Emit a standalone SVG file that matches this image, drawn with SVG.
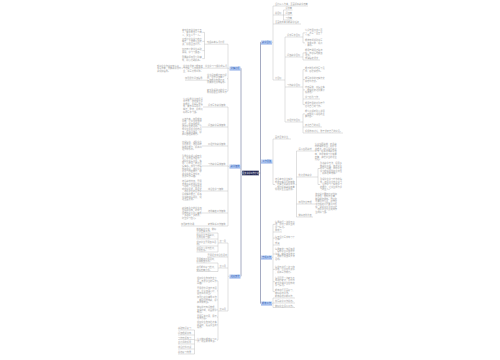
<svg xmlns="http://www.w3.org/2000/svg" width="500" height="360" viewBox="0 0 500 360">
<style>
.t{font-family:"Noto Sans CJK SC","Liberation Sans",sans-serif;font-size:2.2px;fill:#a2a2a2}
.c{fill:none;stroke:#b0b0b0;stroke-width:0.4}
.tr{fill:none;stroke:#9ba1bb;stroke-width:0.9}
.n rect{fill:#bcd2f5}
.n path{stroke:#4a78d8;stroke-width:0.5;fill:none}
.n text{font-family:"Noto Sans CJK SC","Liberation Sans",sans-serif;font-size:2.3px;fill:#2c5bb5;text-anchor:middle}
.m rect{fill:#1e2352;stroke:#ffffff;stroke-width:0.4}
.m text{font-family:"Noto Sans CJK SC","Liberation Sans",sans-serif;font-size:2.05px;fill:#ffffff;text-anchor:middle}
</style>
<rect width="500" height="360" fill="#ffffff"/>
<g id="connectors">
<path class="tr" d="M241,68.3 V276.3 M240.5,68.3 H241 M240.5,166.3 H241 M240.5,276.3 H241 M241,173 H242"/>
<path class="tr" d="M260.5,42.3 V303.3 M259,173 H261 M260.5,42.3 H261 M260.5,161.3 H261 M260.5,257.3 H261 M260.5,303.3 H261"/>
<path class="c" d="M228,44.2 V91.1 M228,68.3 H229.5 M206.5,44.2 H228 M204.5,68.2 H228 M227,78.7 H228 M227,91.1 H228
M204.5,32.4 V58.6 M204.5,44.2 H206.5 M202.3,32.4 H204.5 M202.3,41.4 H204.5 M202.3,50.6 H204.5 M202.3,58.6 H204.5
M203,68.2 H204.5 M181.5,68.2 H183 M185,80.2 H207"/>
<path class="c" d="M228,107 V226 M228,166.3 H229.5 M207.5,107 H228 M207.5,127 H228 M207.5,146 H228 M207.5,166 H228 M207.5,191 H228 M207.5,213 H228 M181,226 H228
M203,107 H207.5 M202,127 H207.5 M202,146 H207.5 M202,166 H207.5 M202,191 H207.5 M202,213 H207.5"/>
<path class="c" d="M228,243 V311 M228,276.3 H229.5 M218,243 H228 M207,257 H228 M218,268 H228 M218,311 H228
M218,233 V252 M196.5,233 H218 M196.5,239 H218 M196.5,246 H218 M196.5,252 H218
M218,263 V271.5 M196.5,263 H218 M196.5,271.5 H218
M218,280.9 V340.1 M216.9,280.9 H218 M216.9,290.9 H218 M216.9,299.9 H218 M216.9,309.9 H218 M216.9,317.1 H218 M216.9,324.9 H218 M216.9,340.1 H218
M194.5,330 V354 M194.5,340.1 H197 M178,330 H194.5 M178,335 H194.5 M178,339.5 H194.5 M178,344 H194.5 M178,349 H194.5 M178,354 H194.5"/>
<path class="c" d="M273,6 V80 M272,42.3 H273 M273,6 H308 M273,15 H283.5 M273,24 H301 M273,80 H285
M283.5,10 V20 M283.5,10 H292.5 M283.5,15 H292.5 M283.5,20 H292.5
M285,37 V122 M285,37 H302 M285,57 H302 M285,87 H302 M285,122 H302
M303,32.9 V42.9 M302,37 H303 M303,32.9 H305 M303,42.9 H305
M303,52.9 V60 M302,57 H303 M303,52.9 H305 M303,60 H320
M303,69.6 V104.6 M302,87 H303 M303,69.6 H305 M303,79.6 H305 M303,89.9 H305 M303,99 H320 M303,104.6 H305
M303,113.9 V133 M302,122 H303 M303,113.9 H305 M303,127 H322 M303,133 H343"/>
<path class="c" d="M273,139 V184.5 M272.5,161.3 H273 M273,139 H291 M273,184.5 H275 M295.5,184.5 H296.5
M296.5,151 V217 M296.5,151 H314.5 M296.5,177 H318 M296.5,204 H315 M296.5,217 H313
M318,168.5 V184.5 M318,168.5 H320 M318,184.5 H320"/>
<path class="c" d="M273,224.4 V291.6 M272,257.3 H273 M273,224.4 H275 M273,232 H282 M273,238.1 H275 M273,245 H280 M273,254 H275 M273,269.4 H275 M273,281.7 H275 M273,291.6 H275
M273,298 V307.5 M272,303.3 H273 M273,298 H295 M273,303 H295 M273,307.5 H295"/>
</g>
<g id="center" class="m"><rect x="242" y="170.5" width="17" height="5"/><text x="250.5" y="173.8">语文教学工作计划</text></g>
<g id="n-l1" class="n"><rect x="229.5" y="66.5" width="11" height="3.6"/><path d="M229.5,70.1 H240.5"/><text x="235" y="69.1">学情分析</text></g>
<g id="n-l2" class="n"><rect x="229.5" y="164.5" width="11" height="3.6"/><path d="M229.5,168.1 H240.5"/><text x="235" y="167.1">教学措施</text></g>
<g id="n-l3" class="n"><rect x="229.5" y="274.5" width="11" height="3.6"/><path d="M229.5,278.1 H240.5"/><text x="235" y="277.1">进度安排</text></g>
<g id="n-r1" class="n"><rect x="261" y="40.5" width="11" height="3.6"/><path d="M261,44.1 H272"/><text x="266.5" y="43.1">教学目标</text></g>
<g id="n-r2" class="n"><rect x="261" y="159.5" width="11.5" height="3.6"/><path d="M261,163.1 H272.5"/><text x="266.75" y="162.1">工作思路</text></g>
<g id="n-r3" class="n"><rect x="261" y="255.5" width="11" height="3.6"/><path d="M261,259.1 H272"/><text x="266.5" y="258.1">常规工作</text></g>
<g id="n-r4" class="n"><rect x="261" y="301.5" width="11" height="3.6"/><path d="M261,305.1 H272"/><text x="266.5" y="304.1">期末工作</text></g>
<g id="l1-items" class="t">
<text x="207" y="43.4">班级基本情况分析</text>
<text><tspan x="182" y="30.5">本班共有学生四十五</tspan><tspan x="182" y="33.1">人，其中男生二十四</tspan><tspan x="182" y="35.7">人，女生二十一人。</tspan></text>
<text><tspan x="182" y="39.5">大部分学生学习态度</tspan><tspan x="182" y="42.1">端正，上课能认真听</tspan><tspan x="182" y="44.7">讲，积极回答问题。</tspan></text>
<text><tspan x="182" y="50">但仍有少数学生基础</tspan><tspan x="182" y="52.6">薄弱，学习习惯差。</tspan></text>
<text><tspan x="182" y="58">需要教师加强个别辅</tspan><tspan x="182" y="60.6">导，耐心帮助提高。</tspan></text>
<text x="205" y="67.4">学生学习习惯养成情况</text>
<text><tspan x="183" y="66.5">学生在课堂上能够遵</tspan><tspan x="183" y="69.1">守纪律，认真完成作</tspan><tspan x="183" y="71.7">业，书写比较工整。</tspan></text>
<text><tspan x="157" y="66.5">部分学生作业不够认真，</tspan><tspan x="157" y="69.1">书写潦草，需要教师及时</tspan><tspan x="157" y="71.7">督促和指导。</tspan></text>
<text><tspan x="207" y="75.5">学生阅读能力有待提</tspan><tspan x="207" y="78.1">高，课外阅读量少，</tspan><tspan x="207" y="80.7">写作能力参差不齐，</tspan><tspan x="207" y="83.3">需要加强训练指导。</tspan></text>
<text x="185" y="79.4">加强课外阅读指导</text>
<text><tspan x="207" y="90.5">家长重视孩子的学习</tspan><tspan x="207" y="93.1">能积极配合学校工作</tspan></text>
</g>
<g id="l2-items" class="t">
<text x="208" y="106.2">识字写字教学措施</text>
<text><tspan x="183" y="99.5">认真指导学生掌握识</tspan><tspan x="183" y="102.1">字方法，培养独立识</tspan><tspan x="183" y="104.7">字能力，重视写字指</tspan><tspan x="183" y="107.3">导，要求书写规范、</tspan><tspan x="183" y="109.9">端正、整洁，养成良</tspan><tspan x="183" y="112.5">好的写字习惯。</tspan></text>
<text x="208" y="126.2">阅读教学具体措施</text>
<text><tspan x="182" y="119.5">以读为本，加强朗读</tspan><tspan x="182" y="122.1">训练，让学生在读中</tspan><tspan x="182" y="124.7">感悟，在读中理解，</tspan><tspan x="182" y="127.3">培养学生的语感。引</tspan><tspan x="182" y="129.9">导学生积极主动地阅</tspan><tspan x="182" y="132.5">读，拓展阅读面，提</tspan><tspan x="182" y="135.1">高阅读理解能力。</tspan></text>
<text x="208" y="145.2">口语交际教学措施</text>
<text><tspan x="182" y="142.5">创设情境，鼓励学生</tspan><tspan x="182" y="145.1">大胆表达，培养倾听</tspan><tspan x="182" y="147.7">和表达能力，提高口</tspan><tspan x="182" y="150.3">语交际水平。</tspan></text>
<text x="208" y="165.2">习作教学具体措施</text>
<text><tspan x="182" y="156.5">引导学生留心观察生</tspan><tspan x="182" y="159.1">活，积累写作素材，</tspan><tspan x="182" y="161.7">鼓励学生写真话、实</tspan><tspan x="182" y="164.3">话、心里话，表达真</tspan><tspan x="182" y="166.9">情实感。加强习作指</tspan><tspan x="182" y="169.5">导和讲评，培养学生</tspan><tspan x="182" y="172.1">修改习作的能力，提</tspan><tspan x="182" y="174.7">高学生的写作水平，</tspan><tspan x="182" y="177.3">激发写作兴趣。</tspan></text>
<text x="208" y="190.2">综合性学习措施</text>
<text><tspan x="182" y="182">结合教材内容，开展</tspan><tspan x="182" y="184.6">丰富多彩的综合性学</tspan><tspan x="182" y="187.2">习活动，让学生在活</tspan><tspan x="182" y="189.8">动中学语文、用语文</tspan><tspan x="182" y="192.4">，培养学生的合作意</tspan><tspan x="182" y="195">识和实践能力，提高</tspan><tspan x="182" y="197.6">学生的综合素养，促</tspan><tspan x="182" y="200.2">进全面发展。</tspan></text>
<text x="208" y="212.2">培优辅差工作措施</text>
<text><tspan x="182" y="208.5">对学有余力的学生加</tspan><tspan x="182" y="211.1">强拓展训练，对学习</tspan><tspan x="182" y="213.7">困难的学生耐心辅导</tspan><tspan x="182" y="216.3">，多鼓励，多表扬，</tspan><tspan x="182" y="218.9">树立学习信心。</tspan></text>
<text x="208" y="225.2">家校联系工作措施</text>
<text x="181" y="225.2">加强家校沟通</text>
</g>
<g id="l3-items" class="t">
<text x="219.5" y="242.2">第一月</text>
<text><tspan x="196.5" y="229.6">制定教学计划，做好</tspan><tspan x="196.5" y="232.2">开学准备工作。</tspan></text>
<text><tspan x="196.5" y="235.6">抓好学生常规教育，</tspan><tspan x="196.5" y="238.2">养成良好习惯。</tspan></text>
<text><tspan x="196.5" y="242.6">组织学生开展读书活</tspan><tspan x="196.5" y="245.2">动。</tspan></text>
<text><tspan x="196.5" y="248.6">进行第一单元检测，</tspan><tspan x="196.5" y="251.2">分析反馈。</tspan></text>
<text x="207.5" y="256.2">开展语文综合性活动</text>
<text x="219.5" y="267.2">第二月</text>
<text><tspan x="196.5" y="259.6">开展朗读比赛活动，</tspan><tspan x="196.5" y="262.2">提高朗读水平。</tspan></text>
<text><tspan x="196.5" y="268.1">进行期中复习检测，</tspan><tspan x="196.5" y="270.7">做好质量分析。</tspan></text>
<text x="219.5" y="310.2">第三月</text>
<text><tspan x="197" y="279">组织学生参加作文竞</tspan><tspan x="197" y="281.6">赛，激发学生的写作</tspan><tspan x="197" y="284.2">兴趣。</tspan></text>
<text><tspan x="197" y="289">开展课外阅读交流活</tspan><tspan x="197" y="291.6">动，分享读书心得，</tspan><tspan x="197" y="294.2">营造书香氛围。</tspan></text>
<text><tspan x="197" y="298">加强后进生辅导工作</tspan><tspan x="197" y="300.6">，做到因材施教，提</tspan><tspan x="197" y="303.2">高整体成绩。</tspan></text>
<text><tspan x="197" y="308">做好单元知识梳理，</tspan><tspan x="197" y="310.6">查漏补缺，巩固所学</tspan><tspan x="197" y="313.2">知识。</tspan></text>
<text><tspan x="197" y="316.5">开展写字比赛，展示</tspan><tspan x="197" y="319.1">优秀作品。</tspan></text>
<text><tspan x="197" y="323">组织学生参加社会实</tspan><tspan x="197" y="325.6">践活动，拓宽学生的</tspan><tspan x="197" y="328.2">视野。</tspan></text>
<text><tspan x="197" y="339.5">认真做好期末复习工</tspan><tspan x="197" y="342.1">作，迎接期末考试。</tspan></text>
<text x="178" y="329.2">基础知识复习</text>
<text x="178" y="334.2">阅读理解训练</text>
<text x="178" y="338.7">习作专项练习</text>
<text x="178" y="343.2">古诗词的积累</text>
<text x="178" y="348.2">综合模拟测试</text>
<text x="178" y="353.2">总结复习效果</text>
</g>
<g id="r1-items" class="t">
<text x="275" y="5.2">坚持以人为本，全面提高教学质量</text>
<text x="275" y="14.2">总目标</text>
<text x="285.5" y="9.2">识字量</text>
<text x="285.5" y="14.2">阅读量</text>
<text x="285.5" y="19.2">习作量</text>
<text x="275" y="23.2">全面完成本学期教学任务</text>
<text x="275" y="79.2">分目标</text>
<text x="287" y="36.2">识字写字目标</text>
<text><tspan x="305" y="31">认识常用汉字二百</tspan><tspan x="305" y="33.6">个，会写一百五十</tspan><tspan x="305" y="36.2">个字。</tspan></text>
<text><tspan x="305" y="41">能按笔顺规则书写</tspan><tspan x="305" y="43.6">，字迹工整、规范</tspan><tspan x="305" y="46.2">、美观。</tspan></text>
<text x="287" y="56.2">阅读教学目标</text>
<text><tspan x="305" y="51">能用普通话正确流</tspan><tspan x="305" y="53.6">利、有感情地朗读</tspan><tspan x="305" y="56.2">课文。</tspan></text>
<text x="305" y="59.2">背诵指定课文</text>
<text x="287" y="86.2">习作教学目标</text>
<text><tspan x="305" y="69">能不拘形式地写下见</tspan><tspan x="305" y="71.6">闻、感受和想象。</tspan></text>
<text><tspan x="305" y="79">能写简单的记实作文</tspan><tspan x="305" y="81.6">和想象作文。</tspan></text>
<text><tspan x="305" y="88">内容具体，感情真实</tspan><tspan x="305" y="90.6">，能根据表达需要分</tspan><tspan x="305" y="93.2">段表述。</tspan></text>
<text x="305" y="98.2">学习修改习作</text>
<text><tspan x="305" y="104">能用常用的修改符号</tspan><tspan x="305" y="106.6">修改自己的习作。</tspan></text>
<text x="287" y="121.2">口语交际目标</text>
<text><tspan x="305" y="112">能认真倾听别人讲话</tspan><tspan x="305" y="114.6">，听懂别人说话的主</tspan><tspan x="305" y="117.2">要内容。</tspan></text>
<text x="305" y="126.2">表达自己的意见</text>
<text x="305" y="132.2">积极参加讨论，敢于发表自己的意见。</text>
</g>
<g id="r2-items" class="t">
<text x="275" y="138.2">面向全体学生，</text>
<text><tspan x="275" y="180">结合本班学生实际，</tspan><tspan x="275" y="182.6">制定切实可行的措施</tspan><tspan x="275" y="185.2">，扎实开展教学工作</tspan><tspan x="275" y="187.8">，努力提高教学质量</tspan><tspan x="275" y="190.4">促进学生全面发展。</tspan></text>
<text x="298.5" y="150.2">深入钻研教材</text>
<text><tspan x="314.8" y="144.5">认真钻研教材，吃透教</tspan><tspan x="314.8" y="147.1">材的编排意图，把握重</tspan><tspan x="314.8" y="149.7">点难点，精心设计教学</tspan><tspan x="314.8" y="152.3">环节，提高课堂教学效</tspan><tspan x="314.8" y="154.9">率，向课堂四十分钟要</tspan><tspan x="314.8" y="157.5">质量，减轻学生的课业</tspan><tspan x="314.8" y="160.1">负担。</tspan></text>
<text x="298.5" y="176.2">优化课堂教学</text>
<text><tspan x="320" y="164">改进教学方法，运用多</tspan><tspan x="320" y="166.6">种教学手段，激发学生</tspan><tspan x="320" y="169.2">的学习兴趣，调动学生</tspan><tspan x="320" y="171.8">学习的积极性和主动性</tspan><tspan x="320" y="174.4">，提高课堂效率。</tspan></text>
<text><tspan x="320" y="180">重视学生学习方法的指</tspan><tspan x="320" y="182.6">导，培养学生自主学习</tspan><tspan x="320" y="185.2">、合作学习、探究学习</tspan><tspan x="320" y="187.8">的能力，让学生成为学</tspan><tspan x="320" y="190.4">习的主人。</tspan></text>
<text x="298.5" y="203.2">加强作业管理</text>
<text><tspan x="315.2" y="194.5">作业设计要有针对性和</tspan><tspan x="315.2" y="197.1">层次性，控制作业量，</tspan><tspan x="315.2" y="199.7">做到精选精练。作业批</tspan><tspan x="315.2" y="202.3">改要及时认真，对作业</tspan><tspan x="315.2" y="204.9">中出现的问题要及时反</tspan><tspan x="315.2" y="207.5">馈，督促学生及时订正</tspan><tspan x="315.2" y="210.1">，培养学生认真完成作</tspan><tspan x="315.2" y="212.7">业的好习惯。</tspan></text>
<text x="298.5" y="216.2">做好培优补差</text>
</g>
<g id="r3-items" class="t">
<text><tspan x="275" y="222.5">每周进行一次单元小</tspan><tspan x="275" y="225.1">结，及时了解学生的</tspan><tspan x="275" y="227.7">学习情况。</tspan></text>
<text x="275" y="231.2">周练习</text>
<text><tspan x="275" y="237.5">每天坚持写字练习十</tspan><tspan x="275" y="240.1">分钟。</tspan></text>
<text x="275" y="244.2">背诵</text>
<text><tspan x="275" y="249.5">每周安排一节阅读课</tspan><tspan x="275" y="252.1">，指导学生阅读课外</tspan><tspan x="275" y="254.7">书籍，做好读书笔记</tspan><tspan x="275" y="257.3">，定期开展读书交流</tspan><tspan x="275" y="259.9">活动。</tspan></text>
<text><tspan x="275" y="267.5">每单元进行一次习作</tspan><tspan x="275" y="270.1">训练，认真批改讲评</tspan><tspan x="275" y="272.7">，提高写作能力。</tspan></text>
<text><tspan x="275" y="278.5">每月召开一次家长会</tspan><tspan x="275" y="281.1">或进行家访，及时与</tspan><tspan x="275" y="283.7">家长沟通学生在校的</tspan><tspan x="275" y="286.3">学习情况。</tspan></text>
<text><tspan x="275" y="291">期末进行全面复习，</tspan><tspan x="275" y="293.6">做好总结工作。</tspan></text>
</g>
<g id="r4-items" class="t">
<text x="275" y="297.2">期末总结学期工作，</text>
<text x="275" y="302.2">撰写教学工作总结。</text>
<text x="275" y="306.7">做好学生评价工作。</text>
</g>
</svg>
